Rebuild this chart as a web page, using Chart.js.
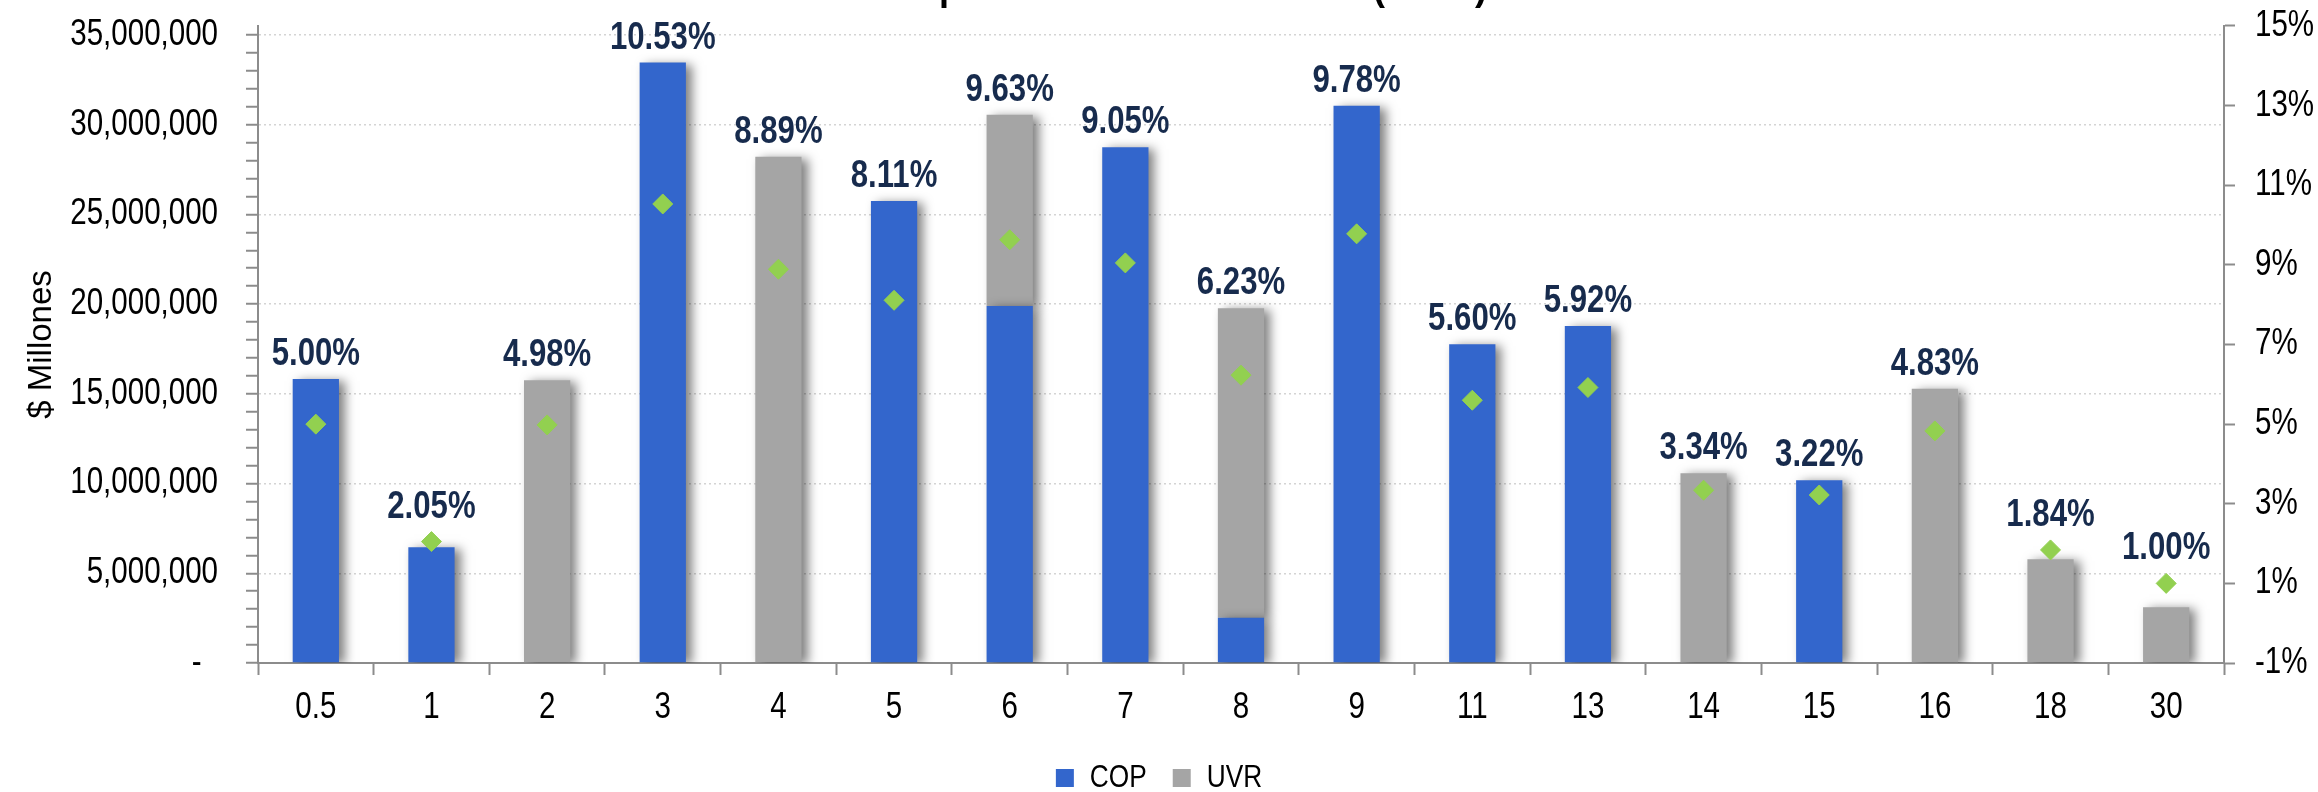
<!DOCTYPE html>
<html>
<head>
<meta charset="utf-8">
<script src="https://cdn.jsdelivr.net/npm/chart.js@4.4.1/dist/chart.umd.min.js"></script>
<style>
html,body{margin:0;padding:0;background:#fff;overflow:hidden;}
#wrap{position:relative;width:2318px;height:804px;}
</style>
</head>
<body>
<div id="wrap"><canvas id="c"></canvas></div>
<script>
// ---- data ----
const categories = ['0.5','1','2','3','4','5','6','7','8','9','11','13','14','15','16','18','30'];
const seriesNames = ['COP','UVR'];
const copValues = [15830000, 6450000, null, 33460000, null, 25750000, 19900000, 28740000, 2520000, 31050000, 17760000, 18780000, null, 10180000, null, null, null];
const uvrValues = [null, null, 15760000, null, 28220000, null, 10650000, null, 17250000, null, null, null, 10570000, null, 15290000, 5780000, 3100000];
const rateValues = [5.00, 2.05, 4.98, 10.53, 8.89, 8.11, 9.63, 9.05, 6.23, 9.78, 5.60, 5.92, 3.34, 3.22, 4.83, 1.84, 1.00];
const leftTicks = [0, 5000000, 10000000, 15000000, 20000000, 25000000, 30000000, 35000000];
const leftMinorStep = 1000000;
const rightTicks = [-1, 1, 3, 5, 7, 9, 11, 13, 15];
const titleText = 'Saldo por Plazo al Vencimiento (Años)';
const yTitleText = '$ Millones';

// ---- styles ----
const NARROW = "'Liberation Sans Narrow', 'Liberation Sans', sans-serif";
const REG = "'Liberation Sans', Arial, sans-serif";
const NARROW_SCALE = 0.82;
const AXIS = '#8c8c8c';
const COLORS = { COP: '#3366CC', UVR: '#A5A5A5', rate: '#92D050', label: '#172B4D' };

// No narrow face is installed: draw "Narrow" text horizontally condensed (still real text).
const canvas = document.getElementById('c');
const ctx2d = canvas.getContext('2d');
const nativeFill = ctx2d.fillText;
const nativeMeasure = ctx2d.measureText;
ctx2d.fillText = function (text, x, y, maxWidth) {
  if (this.font.indexOf('Narrow') >= 0) {
    this.save();
    this.translate(x, y);
    this.scale(NARROW_SCALE, 1);
    if (maxWidth !== undefined) nativeFill.call(this, text, 0, 0, maxWidth / NARROW_SCALE);
    else nativeFill.call(this, text, 0, 0);
    this.restore();
  } else if (maxWidth !== undefined) {
    nativeFill.call(this, text, x, y, maxWidth);
  } else {
    nativeFill.call(this, text, x, y);
  }
};
ctx2d.measureText = function (text) {
  const m = nativeMeasure.call(this, text);
  if (this.font.indexOf('Narrow') >= 0) {
    return {
      width: m.width * NARROW_SCALE,
      actualBoundingBoxAscent: m.actualBoundingBoxAscent,
      actualBoundingBoxDescent: m.actualBoundingBoxDescent,
      actualBoundingBoxLeft: m.actualBoundingBoxLeft * NARROW_SCALE,
      actualBoundingBoxRight: m.actualBoundingBoxRight * NARROW_SCALE
    };
  }
  return m;
};

const shadowPlugin = {
  id: 'barShadow',
  beforeDatasetDraw(chart, args) {
    if (chart.data.datasets[args.index].type !== 'line') {
      const ctx = chart.ctx;
      ctx.save();
      ctx.shadowColor = 'rgba(0,0,0,0.5)';
      ctx.shadowBlur = 10;
      ctx.shadowOffsetX = 6;
      ctx.shadowOffsetY = 2;
    }
  },
  afterDatasetDraw(chart, args) {
    if (chart.data.datasets[args.index].type !== 'line') chart.ctx.restore();
  }
};

const labelPlugin = {
  id: 'rateLabels',
  afterDatasetsDraw(chart) {
    const ctx = chart.ctx;
    ctx.save();
    ctx.font = "bold 38px " + NARROW;
    ctx.fillStyle = COLORS.label;
    ctx.textAlign = 'center';
    ctx.textBaseline = 'alphabetic';
    const ptMeta = chart.getDatasetMeta(2);
    categories.forEach((c, i) => {
      let top = Infinity;
      [0, 1].forEach(d => {
        const v = chart.data.datasets[d].data[i];
        if (v != null) top = Math.min(top, chart.getDatasetMeta(d).data[i].y);
      });
      const pt = ptMeta.data[i];
      top = Math.min(top, pt.y - 10);
      ctx.fillText(rateValues[i].toFixed(2) + '%', pt.x, top - 14);
    });
    ctx.restore();
  }
};

new Chart(ctx2d, {
  type: 'bar',
  data: {
    labels: categories,
    datasets: [
      { label: seriesNames[0], data: copValues, backgroundColor: COLORS.COP, borderWidth: 0, yAxisID: 'y', order: 1,
        categoryPercentage: 1.0, barPercentage: 0.4 },
      { label: seriesNames[1], data: uvrValues, backgroundColor: COLORS.UVR, borderWidth: 0, yAxisID: 'y', order: 2,
        categoryPercentage: 1.0, barPercentage: 0.4 },
      { type: 'line', label: 'Tasa', data: rateValues, yAxisID: 'y1', order: 0, showLine: false,
        pointStyle: 'rectRot', pointRadius: 10, pointHoverRadius: 10,
        pointBackgroundColor: COLORS.rate, pointBorderColor: COLORS.rate, pointBorderWidth: 1 }
    ]
  },
  options: {
    responsive: true,
    maintainAspectRatio: false,
    animation: false,
    devicePixelRatio: 1,
    layout: { padding: { left: 0, right: 0, top: 0, bottom: 0 } },
    plugins: {
      tooltip: { enabled: false },
      title: {
        display: true, text: titleText, color: '#000',
        font: { family: REG, size: 36, weight: 'bold' },
        padding: { top: -31.5, bottom: 14.3 }
      },
      legend: {
        position: 'bottom',
        labels: {
          filter: item => item.datasetIndex < 2,
          font: { family: NARROW, size: 32 }, color: '#000',
          boxWidth: 18, boxHeight: 18, padding: 26
        }
      }
    },
    scales: {
      x: {
        stacked: true,
        grid: { display: true, drawOnChartArea: false, drawTicks: true, tickLength: 12, tickColor: AXIS, tickWidth: 2, offset: true },
        border: { display: true, color: AXIS, width: 2 },
        ticks: { color: '#000', font: { family: NARROW, size: 36 }, padding: 11, autoSkip: false, maxRotation: 0 },
        afterFit(s) { s.height = 73; s.paddingLeft = 0; s.paddingRight = 0; }
      },
      y: {
        stacked: true, position: 'left', min: 0, max: 35500000,
        ticks: {
          stepSize: 5000000, autoSkip: false, padding: 28, color: '#000',
          font: { family: NARROW, size: 36 },
          callback(v) {
            if (!leftTicks.includes(v)) return '';
            return v === 0 ? '-  ' : v.toLocaleString('en-US');
          }
        },
        afterBuildTicks(s) {
          const t = [];
          for (let v = 0; v <= leftTicks[leftTicks.length - 1]; v += leftMinorStep) t.push({ value: v });
          s.ticks = t;
        },
        grid: {
          color: c => (c.tick && leftTicks.includes(c.tick.value) && c.tick.value !== 0) ? '#d4d4d4' : 'rgba(0,0,0,0)',
          lineWidth: 1.5, drawTicks: true, tickLength: 12, tickColor: AXIS, tickWidth: 2
        },
        border: { display: true, color: AXIS, width: 2, dash: [2, 3] },
        title: { display: true, text: yTitleText, color: '#000', font: { family: REG, size: 33 }, padding: { top: 22, bottom: 0 } },
        afterFit(s) { s.width = 258; s.paddingTop = 0; s.paddingBottom = 0; }
      },
      y1: {
        position: 'right', min: -1, max: 15,
        ticks: { stepSize: 2, padding: 20, color: '#000', font: { family: NARROW, size: 36 }, callback: v => v + '%' },
        afterBuildTicks(s) { s.ticks = rightTicks.map(v => ({ value: v })); },
        grid: { drawOnChartArea: false, drawTicks: true, tickLength: 11, tickColor: AXIS, tickWidth: 2 },
        border: { display: true, color: AXIS, width: 2 },
        afterFit(s) { s.width = 94; s.paddingTop = 0; s.paddingBottom = 0; }
      }
    }
  },
  plugins: [shadowPlugin, labelPlugin]
});
</script>
</body>
</html>
